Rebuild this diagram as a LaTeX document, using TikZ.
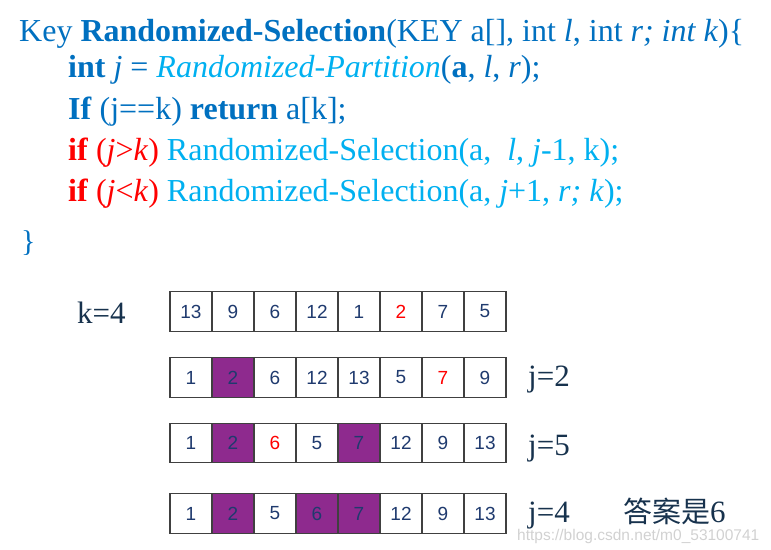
\documentclass[tikz,border=0pt]{standalone}
\usepackage{fontspec}
\setmainfont{Liberation Serif}
\setsansfont{Liberation Sans}
\newfontfamily\cjkfont{Noto Sans CJK SC}
\definecolor{kblue}{HTML}{0070C0}
\definecolor{lblue}{HTML}{00B0F0}
\definecolor{kred}{HTML}{FF0000}
\definecolor{cellnavy}{HTML}{1F3A6E}
\definecolor{dnavy}{HTML}{17324D}
\definecolor{pfill}{HTML}{8E2A8E}
\begin{document}
\begin{tikzpicture}[x=1pt,y=-1pt,
  code/.style={anchor=base west, inner sep=0pt, font=\fontsize{32}{32}\selectfont},
  cell/.style={draw=black!75, line width=1.2pt, minimum width=42pt, minimum height=39.5pt,
    inner sep=0pt, font=\sffamily\fontsize{19}{19}\selectfont, text=cellnavy},
  sel/.style={fill=pfill},
  hot/.style={text=kred},
  plain/.style={},
  lbl/.style={anchor=base west, inner sep=0pt, font=\fontsize{31}{31}\selectfont, text=dnavy}]
\useasboundingbox (0,0) rectangle (771,549);

% code
\node[code,text=kblue] (l1) at (19,41) {Key \textbf{Randomized-Selection}(KEY a[], int \textit{l}, int \textit{r;} \textit{int k})\{};
\node[code,text=kblue] (l2) at (68,77) {\textbf{int} \textit{j} = \textcolor{lblue}{\textit{Randomized-Partition}}(\textbf{a}, \textit{l}, \textit{r});};
\node[code,text=kblue] (l3) at (68,119) {\textbf{If} (j==k) \textbf{return} a[k];};
\node[code,text=lblue] (l4) at (68,160) {\textcolor{kred}{\textbf{if} (\textit{j}>\textit{k})} Randomized-Selection(a,\ \ \textit{l}, \textit{j}-1, k);};
\node[code,text=lblue] (l5) at (68,201) {\textcolor{kred}{\textbf{if} (\textit{j}<\textit{k})} Randomized-Selection(a, \textit{j}+1, \textit{r; k});};
\node[anchor=base west, inner sep=0pt, text=kblue, font=\fontsize{30}{30}\selectfont] (brace) at (21,251) {\}};

% arrays
\foreach \v/\s [count=\i] in {13/plain,9/plain,6/plain,12/plain,1/plain,2/hot,7/plain,5/plain}
  \node[cell,\s] (r1c\i) at ({191+42*(\i-1)},311.5) {\v};
\foreach \v/\s [count=\i] in {1/plain,2/sel,6/plain,12/plain,13/plain,5/plain,7/hot,9/plain}
  \node[cell,\s] (r2c\i) at ({191+42*(\i-1)},377.5) {\v};
\foreach \v/\s [count=\i] in {1/plain,2/sel,6/hot,5/plain,7/sel,12/plain,9/plain,13/plain}
  \node[cell,\s] (r3c\i) at ({191+42*(\i-1)},443) {\v};
\foreach \v/\s [count=\i] in {1/plain,2/sel,5/plain,6/sel,7/sel,12/plain,9/plain,13/plain}
  \node[cell,\s] (r4c\i) at ({191+42*(\i-1)},513.5) {\v};

% labels
\node[lbl] (k) at (77,323) {k=4};
\node[lbl] (j1) at (528,386) {j=2};
\node[lbl] (j2) at (528,455) {j=5};
\node[lbl] (j3) at (528,522) {j=4};
\node[lbl] (ans) at (623,522) {{\cjkfont\fontsize{29}{29}\selectfont 答案是}6};
\node[anchor=base west, inner sep=0pt, text=black!18, font=\sffamily\fontsize{15.5}{15.5}\selectfont] (wm) at (517,540) {https://blog.csdn.net/m0\_53100741};
\end{tikzpicture}
\end{document}
